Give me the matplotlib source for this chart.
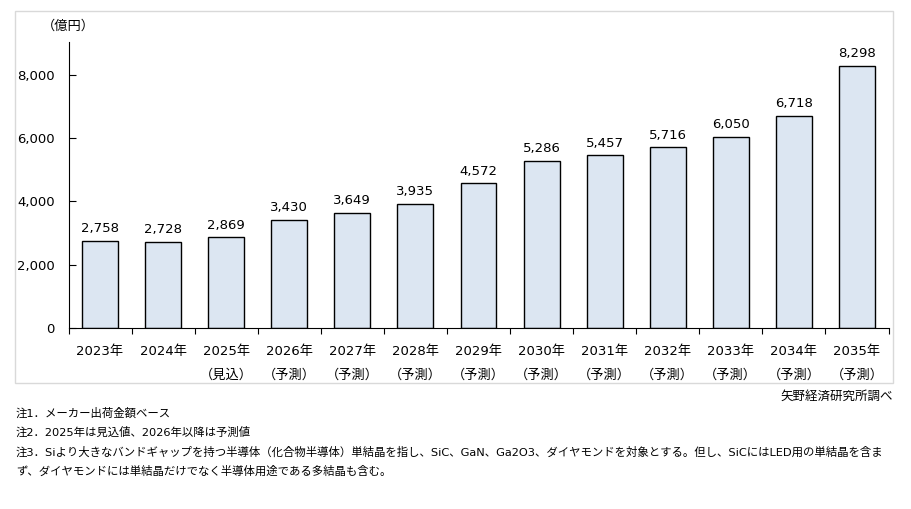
import matplotlib.pyplot as plt
from matplotlib.patches import Rectangle

plt.rcParams['font.family'] = ['DejaVu Sans', 'Noto Sans CJK JP']

years = ["2023年", "2024年", "2025年", "2026年", "2027年", "2028年", "2029年",
         "2030年", "2031年", "2032年", "2033年", "2034年", "2035年"]
notes = ["", "", "（見込）"] + ["（予測）"] * 10
values = [2758, 2728, 2869, 3430, 3649, 3935, 4572, 5286, 5457, 5716, 6050, 6718, 8298]

W, H = 911, 509
fig = plt.figure(figsize=(W / 100, H / 100), dpi=100)

# outer frame
fig.patches.append(Rectangle((15 / W, 1 - 383 / H), (893 - 15) / W, (383 - 11) / H,
                             transform=fig.transFigure, fill=False,
                             edgecolor='#d9d9d9', linewidth=1))

ax = fig.add_axes([68.5 / W, 1 - 328 / H, (888.5 - 68.5) / W, (328 - 42) / H])
x = range(len(values))
ax.bar(x, values, width=0.57, color='#dce6f2', edgecolor='black', linewidth=1)
for i, v in enumerate(values):
    ax.text(i, v + 170, f"{v:,}", ha='center', va='bottom', fontsize=9.5)

ax.set_xlim(-0.5, len(values) - 0.5)
ax.set_ylim(0, 9043)
ax.set_yticks([0, 2000, 4000, 6000, 8000])
ax.set_yticklabels([f"{t:,}" for t in [0, 2000, 4000, 6000, 8000]], fontsize=9.5)
ax.tick_params(axis='y', direction='in', length=5, pad=10)
ax.set_xticks([i + 0.5 for i in range(-1, len(values))])
ax.set_xticklabels([])
ax.tick_params(axis='x', direction='out', length=4)
for i in x:
    ax.text(i, -550, years[i], ha='center', va='top', fontsize=9.5)
    if notes[i]:
        ax.text(i, -1300, notes[i], ha='center', va='top', fontsize=9.5)

for s in ['top', 'right']:
    ax.spines[s].set_visible(False)

fig.text(68 / W, 1 - 26 / H, "（億円）", ha='center', va='center', fontsize=9.5)
fig.text(893 / W, 1 - 396 / H, "矢野経済研究所調べ", ha='right', va='center', fontsize=9)

note_lines = [
    "注1．メーカー出荷金額ベース",
    "注2．2025年は見込値、2026年以降は予測値",
    "注3．Siより大きなバンドギャップを持つ半導体（化合物半導体）単結晶を指し、SiC、GaN、Ga2O3、ダイヤモンドを対象とする。但し、SiCにはLED用の単結晶を含ま",
    "ず、ダイヤモンドには単結晶だけでなく半導体用途である多結晶も含む。",
]
# shrink the note font so the long line fits the reference width
renderer = fig.canvas.get_renderer()
probe = fig.text(0, 0, note_lines[2], fontsize=9)
w = probe.get_window_extent(renderer).width
probe.remove()
note_fs = min(9, 9 * (887 - 16) / w)
for j, line in enumerate(note_lines):
    fig.text(16 / W, 1 - (413 + j * 19.5) / H, line, ha='left', va='center', fontsize=note_fs)

fig.savefig("out.png", dpi=100)
